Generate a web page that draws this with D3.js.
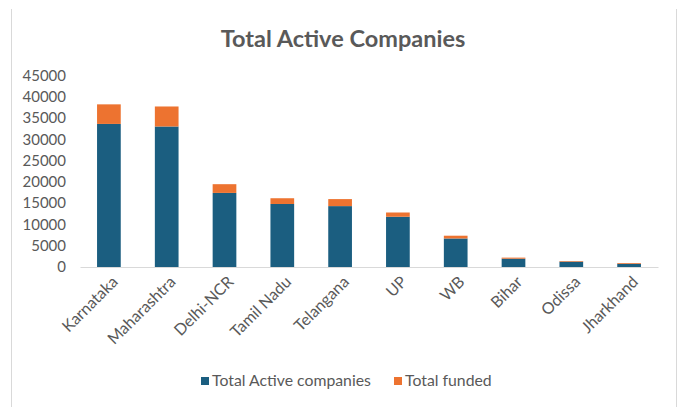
<!DOCTYPE html>
<html>
<head>
<meta charset="utf-8">
<script src="https://cdn.jsdelivr.net/npm/d3@7"></script>
<style>
  body { margin: 0; background: #fff; }
  svg { font-family: Lato, "Open Sans", sans-serif; }
</style>
</head>
<body>
<main></main>
<script>
const states = ["Karnataka", "Maharashtra", "Delhi-NCR", "Tamil Nadu", "Telangana", "UP", "WB", "Bihar", "Odissa", "Jharkhand"]
const activeCompanies = [33600, 33000, 17400, 14800, 14300, 11800, 6700, 1950, 1250, 750]
const totalFunded = [4600, 4700, 2050, 1350, 1650, 1000, 650, 250, 150, 180]
const yTicks = [0, 5000, 10000, 15000, 20000, 25000, 30000, 35000, 40000, 45000]
const seriesNames = ["Total Active companies", "Total funded"]

const width = 681
const height = 407
const margin = { top: 76, bottom: 140, left: 80, right: 23 }

let svg = d3.select("main")
    .append("svg")
    .attr("width", width)
    .attr("height", height)

// chart frame
svg.append("line").attr("x1", 11.5).attr("x2", 11.5).attr("y1", 9).attr("y2", height).attr("stroke", "#d9d9d9")
svg.append("line").attr("x1", 676.5).attr("x2", 676.5).attr("y1", 9).attr("y2", height).attr("stroke", "#d9d9d9")

let rows = states.map((s, i) => ({ state: s, active: activeCompanies[i], funded: totalFunded[i] }))
let stack = d3.stack().keys(["active", "funded"])(rows)

let x = d3.scaleBand()
    .domain(states)
    .range([margin.left, width - margin.right])
    .paddingInner(0.59)
    .paddingOuter(0.295)

let y = d3.scaleLinear()
    .domain([0, 45000])
    .range([height - margin.bottom, margin.top - 0.6])

let color = d3.scaleOrdinal()
    .domain(["active", "funded"])
    .range(["#1b5e80", "#ed7330"])

svg.append("text")
    .attr("x", 343)
    .attr("y", 47)
    .attr("text-anchor", "middle")
    .attr("font-size", "23.5px")
    .attr("font-weight", "bold")
    .attr("fill", "#595959")
    .text("Total Active Companies")

let yAxis = svg.append("g")
    .attr("transform", `translate(${margin.left},0)`)
    .call(d3.axisLeft(y).tickValues(yTicks).tickFormat(d3.format("d")).tickSize(0).tickPadding(14))
yAxis.select(".domain").remove()
yAxis.selectAll("text")
    .attr("font-size", "15px")
    .attr("font-family", "Lato, sans-serif")
    .attr("fill", "#595959")

svg.append("g")
    .selectAll("g")
    .data(stack)
    .enter().append("g")
    .attr("fill", d => color(d.key))
    .selectAll("rect")
    .data(d => d)
    .enter().append("rect")
    .attr("x", d => x(d.data.state))
    .attr("y", d => y(d[1]))
    .attr("width", x.bandwidth())
    .attr("height", d => y(d[0]) - y(d[1]))

let xAxis = svg.append("g")
    .attr("transform", `translate(0,${height - margin.bottom})`)
    .call(d3.axisBottom(x).tickSize(0).tickPadding(0))
xAxis.select(".domain").attr("stroke", "#d9d9d9").attr("stroke-width", 1.2)
xAxis.selectAll("text")
    .attr("font-size", "16px")
    .attr("font-family", "Lato, sans-serif")
    .attr("fill", "#595959")
    .attr("text-anchor", "end")
    .attr("dy", "0.35em")
    .attr("transform", "translate(6,12) rotate(-45)")

let legendItems = [
    { key: "active", name: seriesNames[0], x: 201 },
    { key: "funded", name: seriesNames[1], x: 394 }
]
let legend = svg.append("g")
legend.selectAll("rect")
    .data(legendItems)
    .enter().append("rect")
    .attr("x", d => d.x)
    .attr("y", 377)
    .attr("width", 8)
    .attr("height", 8)
    .attr("fill", d => color(d.key))
legend.selectAll("text")
    .data(legendItems)
    .enter().append("text")
    .attr("x", d => d.x + 11)
    .attr("y", 386)
    .attr("font-size", "15.8px")
    .attr("fill", "#595959")
    .text(d => d.name)
</script>
</body>
</html>
